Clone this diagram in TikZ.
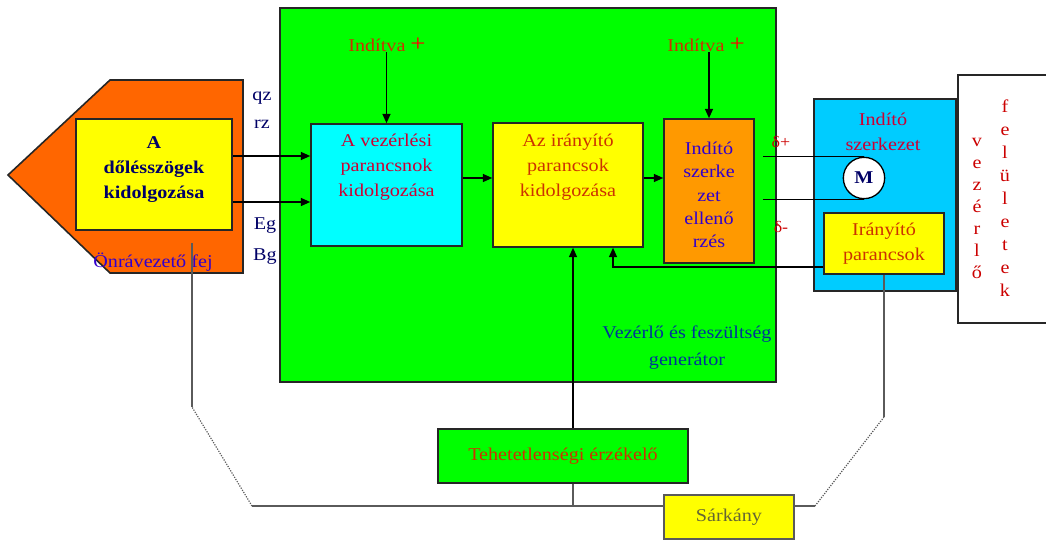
\documentclass[tikz,border=0pt]{standalone}
\usepackage{fontspec}
\setmainfont{Liberation Serif}[FakeStretch=1.12]
\usetikzlibrary{arrows.meta,calc}
\definecolor{gfill}{RGB}{0,255,0}
\definecolor{ofill}{RGB}{255,102,0}
\definecolor{obox}{RGB}{255,153,0}
\definecolor{yfill}{RGB}{255,255,0}
\definecolor{cfill}{RGB}{0,255,255}
\definecolor{bfill}{RGB}{0,204,255}
\definecolor{navy}{RGB}{0,0,102}
\definecolor{ored}{RGB}{204,51,0}
\definecolor{crim}{RGB}{204,0,51}
\definecolor{pblue}{RGB}{51,0,204}
\definecolor{vblue}{RGB}{0,51,153}
\definecolor{olive}{RGB}{102,102,51}
\definecolor{vred}{RGB}{204,0,0}
\definecolor{lgray}{RGB}{90,90,90}
\begin{document}
\begin{tikzpicture}[x=0.75pt,y=-0.75pt,
  box/.style={draw=black!85, line width=1.2pt, inner sep=0pt},
  txt/.style={align=center, inner sep=0pt, font=\fontsize{13.5}{18.75}\selectfont},
  arr/.style={-{Triangle[length=7pt,width=6pt]}, line width=1.1pt, draw=black},
  wire/.style={line width=1.1pt, draw=black},
  glink/.style={line width=0.8pt, draw=lgray},
  dlink/.style={line width=0.9pt, draw=lgray, densely dotted}]
\useasboundingbox (0,0) rectangle (1046,542);
% main green generator
\node[box, fill=gfill, minimum width=372pt, minimum height=280.5pt] (G) at (528,195) {};
\node[txt, text=vblue, font=\fontsize{13.5}{20.25}\selectfont] (tG) at (687,348) {Vezérlő és feszültség\\generátor};
% pentagon head
\draw[box, fill=ofill] (8,175) -- (110,80) -- (243,80) -- (243,273) -- (110,273) -- cycle;
\node[txt, text=pblue] (tP) at (153,262) {Önrávezető fej};
\coordinate (head) at (192,243);
% yellow A
\node[box, fill=yfill, minimum width=117pt, minimum height=83.25pt] (YA) at (154,174.5) {};
\node[txt, text=navy] (tYA) at (154,170) {\bfseries A\\\bfseries dőlésszögek\\\bfseries kidolgozása};
% signal labels
\node[txt, text=navy] (qz) at (262,98) {qz};
\node[txt, text=navy] (rz) at (262,124) {rz};
\node[txt, text=navy] (Eg) at (265,226) {Eg};
\node[txt, text=navy] (Bg) at (265,257) {Bg};
% cyan box
\node[box, fill=cfill, minimum width=113.25pt, minimum height=91.5pt] (C) at (386.5,185) {};
\node[txt, text=crim] (tC) at (386.5,167) {A vezérlési\\parancsnok\\kidolgozása};
% yellow 2
\node[box, fill=yfill, minimum width=112.5pt, minimum height=93pt] (Y2) at (568,185) {};
\node[txt, text=ored] (tY2) at (568,167) {Az irányító\\parancsok\\kidolgozása};
% orange box
\node[box, fill=obox, minimum width=67.5pt, minimum height=108pt] (OB) at (709,191) {};
\node[txt, text=pblue, font=\fontsize{13.5}{17.5}\selectfont] (tOB) at (709,195) {Indító\\szerke\\zet\\ellenő\\rzés};
% Inditva labels
\node[txt, text=ored] (I1) at (387,45) {Indítva {\color{red}\fontsize{18}{18}\selectfont +}};
\node[txt, text=ored] (I2) at (706,45) {Indítva {\color{red}\fontsize{18}{18}\selectfont +}};
\draw[arr] (I1.south -| C.north) -- (C.north);
\draw[arr] (I2.south -| OB.north) -- (OB.north);
% arrows between boxes
\draw[arr] (YA.east |- 0,156) -- (C.west |- 0,156);
\draw[arr] (YA.east |- 0,202) -- (C.west |- 0,202);
\draw[arr] (C.east |- 0,178) -- (Y2.west |- 0,178);
\draw[arr] (Y2.east |- 0,178) -- (OB.west |- 0,178);
% blue box
\node[box, fill=bfill, minimum width=106.5pt, minimum height=144pt] (BB) at (885,195) {};
\node[txt, text=crim] (tBB) at (883,132) {Indító\\szerkezet};
\node[circle, draw=black, line width=1pt, fill=white, minimum size=31pt, inner sep=0pt, text=navy, font=\fontsize{13.5}{13.5}\selectfont\bfseries] (M) at (864,178) {M};
\node[box, fill=yfill, minimum width=90pt, minimum height=45.75pt] (IP) at (884,243.5) {};
\node[txt, text=ored] (tIP) at (884,243.5) {Irányító\\parancsok};
% delta lines
\draw[wire] (M.north -| 763,0) -- (M.north);
\draw[wire] (M.south -| 763,0) -- (M.south);
\node[txt, text=vred, font=\fontsize{12}{12}\selectfont] (dp) at (781,142) {δ+};
\node[txt, text=vred, font=\fontsize{12}{12}\selectfont] (dm) at (781,227) {δ-};
% feedback from IP
\draw[arr] (IP.west |- 0,267) -| ([xshift=33.75pt]Y2.south);
% white box
\node[box, fill=white, minimum width=68.25pt, minimum height=186pt] (W) at (1003.5,199) {};
\node[txt, text=vred, font=\fontsize{13.5}{16.5}\selectfont] (tW1) at (977,208) {v\\e\\z\\é\\r\\l\\ő};
\node[txt, text=vred, font=\fontsize{13.5}{17.25}\selectfont] (tW2) at (1005,198) {f\\e\\l\\ü\\l\\e\\t\\e\\k};
% inertial sensor
\node[box, fill=gfill, minimum width=187.5pt, minimum height=40.5pt, text=ored, font=\fontsize{13.5}{14}\selectfont] (T) at (563,456) {Tehetetlenségi érzékelő};
\draw[arr] ([xshift=7.5pt]T.north) -- ([xshift=3.75pt]Y2.south);
% Sarkany
\node[draw=lgray, line width=0.8pt, fill=yfill, minimum width=97.5pt, minimum height=33pt, text=olive, font=\fontsize{13.5}{14}\selectfont] (S) at (729,517) {Sárkány};
% grey links
\draw[glink] ([xshift=7.5pt]T.south) -- ([xshift=7.5pt]T.south |- 0,506);
\draw[glink] (S.west |- 0,506) -- (252,506);
\draw[dlink] (252,506) -- (192,407);
\draw[glink] (192,407) -- (head);
\draw[glink] (S.east |- 0,506) -- (815,506);
\draw[dlink] (815,506) -- (884,417);
\draw[glink] (884,417) -- (IP.south);
\end{tikzpicture}
\end{document}
